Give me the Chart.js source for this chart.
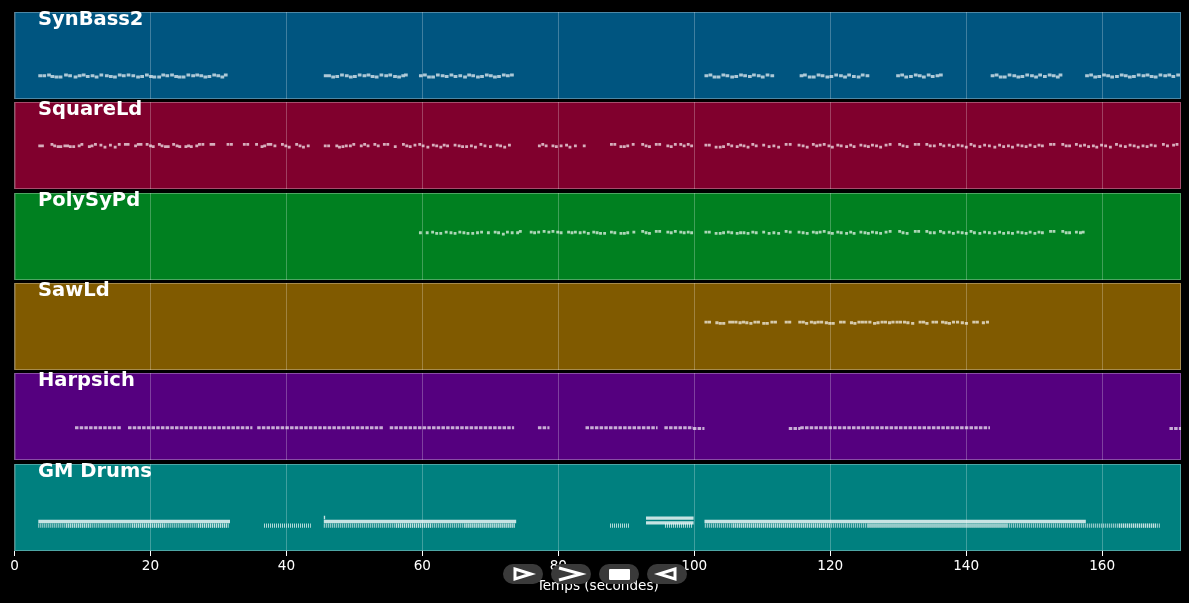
<!DOCTYPE html>
<html>
<head>
<meta charset="utf-8">
<title>Piano roll</title>
<script src="https://cdn.jsdelivr.net/npm/chart.js@4"></script>
<style>
html, body { margin: 0; padding: 0; background: #000; width: 1189px; height: 603px; overflow: hidden; }
canvas { position: absolute; left: 0; }
.track-name { position: absolute; left: 38px; font: bold 19.5px "DejaVu Sans", sans-serif; color: #fff; line-height: 20px; white-space: nowrap; }
.pill { position: absolute; top: 564px; width: 40px; height: 20px; border-radius: 10px; background: #3a3a3a; }
.pill svg { position: absolute; left: 0; top: 0; }
</style>
</head>
<body>
<script>
// axe du temps
const timeMax = 171.6;
const timeTicks = [0, 20, 40, 60, 80, 100, 120, 140, 160];
const timeLabel = 'Temps (secondes)';

const trackNames = ['SynBass2', 'SquareLd', 'PolySyPd', 'SawLd', 'Harpsich', 'GM Drums'];
const trackColors = ['#005580', '#80002d', '#008020', '#805a00', '#55007f', '#00807f'];
const trackTops = [12, 102, 193, 283, 373, 464];

// notes : [debut, hauteur MIDI]
const synBassNotes = [
  [3.5,35],[4.1,35],[4.8,36],[5.3,34],[5.9,33],[6.5,33],[7.3,36],[7.9,35],[8.7,33],[9.3,35],[9.9,36],[10.5,34],[11.2,35],[11.8,33],[12.5,36],[13.3,35],[13.9,34],[14.5,33],[15.2,36],[15.8,35],[16.5,36],[17.2,35],[17.9,33],[18.5,34],[19.2,36],[19.8,34],[20.3,33],[21,33],[21.6,36],[22.2,35],[22.9,36],[23.5,34],[24,33],[24.6,33],[25.3,36],[26,35],[26.6,36],[27.2,35],[27.8,33],[28.4,34],[29.1,36],[29.7,35],[30.3,33],[30.8,36],
  [45.5,35],[46,35],[46.6,33],[47.2,34],[47.9,36],[48.6,35],[49.2,33],[49.8,34],[50.5,36],[51.2,35],[51.8,36],[52.4,34],[53,33],[53.7,36],[54.4,35],[55,36],[55.7,34],[56.3,33],[56.9,35],[57.3,36],
  [59.5,35],[60.1,36],[60.7,33],[61.3,33],[62,36],[62.7,35],[63.3,34],[64,36],[64.6,34],[65.3,35],[66,33],[66.6,36],[67.2,35],[67.9,33],[68.5,34],[69.2,36],[69.8,35],[70.4,33],[71,34],[71.7,36],[72.3,35],[72.9,36],
  [101.5,35],[102.1,36],[102.7,33],[103.3,33],[104,36],[104.6,35],[105.3,33],[105.9,34],[106.6,36],[107.2,35],[107.9,34],[108.5,36],[109.2,35],[109.8,33],[110.5,36],[111.2,35],
  [115.5,35],[116,36],[116.7,33],[117.3,33],[118,36],[118.6,35],[119.3,33],[119.9,34],[120.6,36],[121.3,35],[121.9,33],[122.5,36],[123.2,34],[123.9,33],[124.5,36],[125.2,35],
  [129.7,35],[130.3,36],[130.9,33],[131.6,34],[132.3,36],[132.9,35],[133.5,33],[134.2,36],[134.8,34],[135.5,35],[136,36],
  [143.6,35],[144.2,36],[144.8,33],[145.4,33],[146.1,36],[146.8,35],[147.4,33],[148,34],[148.7,36],[149.4,35],[150,33],[150.6,36],[151.3,34],[152,36],[152.6,35],[153.2,33],[153.6,36],
  [157.5,35],[158.1,36],[158.7,33],[159.3,34],[160,36],[160.6,35],[161.2,33],[161.9,34],[162.6,36],[163.2,35],[163.8,33],[164.4,34],[165.1,36],[165.8,35],[166.4,36],[167,34],[167.6,33],[168.3,36],[169,35],[169.6,36],[170.2,34],[170.9,36]
];
const squareNotes = [
  [3.5,64],[3.9,64],[5.3,66],[5.7,64],[6.2,63],[6.6,63],[7.2,64],[7.6,64],[8,63],[8.5,63],[9.3,64],[9.7,66],[10.8,63],[11.2,64],[11.7,66],[12.5,65],[13.1,62],[13.9,65],[14.6,62],[15.2,66],[16.1,66],[16.5,66],[17.6,64],[18,66],[18.4,66],[19.3,66],[19.8,64],[20.2,63],[21.1,66],[21.5,64],[22,63],[22.4,63],[23.2,66],[23.7,64],[24.1,63],[25,63],[25.4,64],[25.8,63],[26.6,64],[27,66],[27.5,66],[28.7,66],[29.1,66],[31.2,66],[31.7,66],[33.6,66],[34.1,66],[35.4,66],[36.2,63],[36.6,64],[37.1,66],[37.5,66],[38.1,64],[39.2,66],[39.7,64],[40.2,62],[41.3,66],[41.8,64],[42.3,62],[43,64],
  [45.5,64],[46,64],[47.2,64],[47.6,62],[48.1,63],[48.6,64],[49.2,64],[49.7,66],[50.8,64],[51.3,66],[51.8,64],[52.8,66],[53.3,64],[54.2,66],[54.7,66],[55.8,63],[57,66],[57.5,64],[58,63],[58.7,65],[59.4,66],[59.9,64],[60.6,62],[61.4,65],[61.9,64],[62.5,62],[63,65],[63.5,64],[64.6,65],[65.2,64],[65.7,63],[66.3,63],[67,64],[67.6,62],[68.4,66],[69,64],[69.8,63],[70.8,65],[71.3,64],[71.9,62],[72.6,65],
  [77,64],[77.5,66],[78,64],[79,64],[79.5,63],[80.2,64],[81,65],[81.5,62],[82.3,64],[83.6,64],
  [87.6,66],[88.1,66],[89,63],[89.5,63],[90,64],[90.8,66],[92.2,66],[92.7,64],[93.2,63],[94.2,66],[94.7,66],[95.9,64],[96.4,63],[97,66],[97.8,66],[98.3,64],[98.9,66],[99.4,64],
  [101.5,65],[102,65],[103,62],[103.6,62],[104.1,63],[104.8,66],[105.3,64],[106.1,63],[106.6,65],[107.1,64],[107.7,62],[108.4,66],[108.9,64],[110,65],[110.8,63],[111.5,64],[112.2,62],[113.3,66],[113.9,66],[115.2,65],[115.8,64],[116.4,62],[117.3,66],[117.8,64],[118.3,65],[118.9,66],[119.6,64],[120.1,62],[120.9,65],[121.4,64],[122.2,63],[122.8,65],[123.3,63],[124.3,65],[124.9,64],[125.4,63],[126,65],[126.6,64],[127.2,62],[128,65],[128.6,66],[130,66],[130.5,64],[131.1,63],[132.3,66],[132.8,66],[134,66],[134.5,64],[135.1,64],[136,66],[136.5,64],[137.3,65],[137.9,63],[138.6,65],[139.2,64],[139.8,62],[140.5,66],[141,64],[141.8,63],[142.5,65],[143.2,64],[144,62],[144.7,65],[145.3,63],[146,64],[146.6,62],[147.4,65],[148,64],[148.6,63],[149.2,65],[149.9,63],[150.5,65],[151,64],[152.2,66],[152.7,66],[154,66],[154.5,64],[155,64],[156,66],[156.6,64],[157.2,65],[157.8,63],[158.5,64],[159,62],[159.7,65],[160.3,64],[161,62],[161.9,66],[162.5,64],[163.2,63],[163.9,65],[164.5,64],[165.1,62],[165.8,64],[166.4,63],[167,65],[167.6,64],[168.8,66],[169.4,64],[170.3,65],[170.8,66]
];
const polyNotes = [
  [59.5,70],[60.5,70],[61.3,71],[61.9,69],[62.5,69],[63.3,71],[64,70],[64.6,69],[65.3,71],[65.9,70],[66.5,69],[67.2,69],[67.9,70],[68.5,71],[69.5,70],[70.5,71],[71,70],[71.7,68],[72.3,71],[73,70],[73.8,70],[74.2,72],[75.8,71],[76.3,70],[76.9,71],[77.7,72],[78.4,71],[79,72],[79.7,71],[80.2,70],[81.3,71],[81.8,70],[82.3,71],[83,70],[83.6,71],[84.2,69],[85,71],[85.5,70],[86,69],[86.6,69],[87.6,71],[88.1,70],[89,69],[89.5,69],[90,70],[90.9,71],[92.2,72],[92.7,70],[93.2,69],[94.2,72],[94.7,72],[95.9,71],[96.4,70],[97,72],[97.8,71],[98.3,70],[98.9,71],[99.4,70],
  [101.5,71],[102,71],[103,69],[103.6,69],[104.1,70],[104.8,71],[105.3,70],[106.1,69],[106.6,70],[107.1,70],[107.7,69],[108.4,71],[108.9,70],[110,71],[110.8,69],[111.5,70],[112.2,69],[113.3,72],[113.9,71],[115.2,71],[115.8,70],[116.4,69],[117.3,71],[117.8,70],[118.3,71],[118.9,72],[119.6,70],[120.1,69],[120.9,71],[121.4,70],[122.2,69],[122.8,71],[123.3,69],[124.3,71],[124.9,70],[125.4,69],[126,71],[126.6,70],[127.2,69],[128,71],[128.6,72],[130,72],[130.5,70],[131.1,69],[132.3,72],[132.8,72],[134,72],[134.5,70],[135.1,70],[136,72],[136.5,70],[137.3,71],[137.9,69],[138.6,71],[139.2,70],[139.8,69],[140.5,72],[141,70],[141.8,69],[142.5,71],[143.2,70],[144,69],[144.7,71],[145.3,69],[146,70],[146.6,69],[147.4,71],[148,70],[148.6,69],[149.2,71],[149.9,69],[150.5,71],[151,70],[152.2,72],[152.7,72],[154,72],[154.5,70],[155,70],[156,71],[156.6,70],[157,71]
];
const sawNotes = [
  [101.5,71],[102,71],[103.1,70],[103.6,69],[104.1,69],[105,71],[105.4,71],[105.9,71],[106.5,70],[107,71],[107.5,70],[108.1,69],[108.7,71],[109.2,71],[110,69],[110.5,69],[111.2,71],[111.7,71],[113.3,71],[113.8,71],[115.3,71],[115.8,71],[116.3,69],[117,71],[117.5,70],[118,71],[118.5,71],[119.2,70],[119.7,69],[120.2,69],[121.3,71],[121.8,71],[122.9,70],[123.4,69],[124,71],[124.5,71],[125,71],[125.6,71],[126.3,69],[126.8,70],[127.4,71],[127.9,71],[128.5,70],[129,71],[129.6,71],[130.1,71],[130.7,71],[131.2,70],[131.9,69],[133,71],[133.5,71],[134,69],[134.9,71],[135.4,71],[136.3,71],[136.8,70],[137.3,69],[137.9,71],[138.5,71],[139.2,70],[139.8,69],[140.9,71],[141.4,71],[142.3,70],[142.9,71]
];
const synBassLen = 0.55;
const squareLen = 0.42;
const polyLen = 0.42;
const sawLen = 0.46;

// clavecin et batterie : [debut, fin, hauteur]
const harpsichSpans = [
  [8.9,15.7,48],[16.7,35,48],[35.7,54.2,48],[55.2,73.5,48],[77,78.7,48],[84,94.6,48],[95.6,99.8,48],[99.8,101.5,47],
  [113.9,115.6,47],[115.6,143.5,48],[169.9,171.6,47]
];
const drumBarSpans = [
  [3.5,31.7,44],[45.5,73.8,44],[101.5,157.6,44],[92.9,99.9,49],[92.9,99.9,42],[45.5,45.7,50]
];
const drumTickSpans = [
  [3.5,31.5,38],[36.7,43.6,38],[45.5,73.6,38],[87.6,90.5,38],[95.7,99.8,38],[101.55,168.6,38]
];
const drumFillSpans = [
  [7.6,11.2,38],[17.3,22.1,38],[27,31.5,38],[56.1,61.4,38],[66.2,73.6,38],[105.65,120,38],[125.55,146,38],[162.45,168,38]
];

const lineColor = 'rgba(255,255,255,0.68)';

function notesToSpans(notes, len) {
    return notes.map(n => [n[0], n[0] + len, n[1]]);
}

function spansToPoints(spans) {
    const pts = [];
    spans.forEach(s => {
        pts.push({ x: s[0], y: s[2] }, { x: s[1], y: s[2] }, { x: s[1], y: null });
    });
    return pts;
}

function lineSet(spans, width, dash, color) {
    return {
        data: spansToPoints(spans),
        showLine: true,
        spanGaps: false,
        pointRadius: 0,
        borderColor: color || lineColor,
        borderWidth: width,
        borderDash: dash || [],
        borderCapStyle: 'butt',
        tension: 0
    };
}

const trackSets = [
    [lineSet(notesToSpans(synBassNotes, synBassLen), 3)],
    [lineSet(notesToSpans(squareNotes, squareLen), 2.8)],
    [lineSet(notesToSpans(polyNotes, polyLen), 2.8)],
    [lineSet(notesToSpans(sawNotes, sawLen), 2.8)],
    [lineSet(harpsichSpans, 3, [3.5, 1.2])],
    [
        lineSet(drumTickSpans, 4.2, [1, 1], 'rgba(255,255,255,0.7)'),
        lineSet(drumFillSpans, 4.2, [1, 1], 'rgba(255,255,255,0.55)'),
        lineSet(drumBarSpans, 3.4, [], 'rgba(255,255,255,0.78)')
    ]
];

// fond et cadre de chaque piste
const panelPlugin = {
    id: 'panel',
    beforeDraw(chart, args, opts) {
        const a = chart.chartArea;
        chart.ctx.fillStyle = opts.color;
        chart.ctx.fillRect(a.left, a.top, a.width, a.height);
    },
    afterDraw(chart) {
        const a = chart.chartArea;
        chart.ctx.strokeStyle = 'rgba(255,255,255,0.3)';
        chart.ctx.lineWidth = 1;
        chart.ctx.strokeRect(a.left + 0.5, a.top + 0.5, a.width - 1, a.height - 1);
    }
};

trackNames.forEach((name, i) => {
    const isLast = i === trackNames.length - 1;
    const canvas = document.createElement('canvas');
    canvas.style.top = trackTops[i] + 'px';
    canvas.width = 1189;
    canvas.height = isLast ? 131 : 87;
    canvas.style.width = '1189px';
    canvas.style.height = canvas.height + 'px';
    document.body.appendChild(canvas);

    new Chart(canvas.getContext('2d'), {
        type: 'scatter',
        data: { datasets: trackSets[i] },
        plugins: [panelPlugin],
        options: {
            responsive: false,
            animation: false,
            devicePixelRatio: 1,
            layout: { padding: { left: 14.5, right: 8, top: 0, bottom: 0 } },
            plugins: {
                legend: { display: false },
                tooltip: { enabled: false },
                panel: { color: trackColors[i] }
            },
            scales: {
                x: {
                    type: 'linear',
                    min: 0,
                    max: timeMax,
                    afterBuildTicks(scale) { scale.ticks = timeTicks.map(v => ({ value: v })); },
                    afterFit(scale) { scale.height = isLast ? 44 : 0; },
                    border: { display: false },
                    grid: {
                        color: 'rgba(255,255,255,0.25)',
                        tickColor: '#fff',
                        tickLength: 5,
                        drawTicks: isLast
                    },
                    ticks: {
                        display: isLast,
                        color: '#fff',
                        maxRotation: 0,
                        padding: 2,
                        font: { family: '"DejaVu Sans"', size: 13.6 }
                    },
                    title: {
                        display: isLast,
                        text: timeLabel,
                        color: '#fff',
                        padding: 0,
                        font: { family: '"DejaVu Sans"', size: 13.6 }
                    }
                },
                y: { display: false, min: 1, max: 128 }
            }
        }
    });

    const label = document.createElement('div');
    label.className = 'track-name';
    label.textContent = name;
    label.style.top = (trackTops[i] - 3) + 'px';
    document.body.appendChild(label);
});

// boutons de lecture par-dessus l'axe
const buttonCenters = [523, 571, 619, 667];
const buttonIcons = [
    '<path d="M12 5 L28 10 L12 15 Z" fill="none" stroke="#fff" stroke-width="3"/>',
    '<path d="M8 4 L30 10 L8 16" fill="none" stroke="#fff" stroke-width="3"/>',
    '<rect x="10" y="5" width="21" height="11" rx="1" fill="#fff"/>',
    '<path d="M28 5 L12 10 L28 15 Z" fill="none" stroke="#fff" stroke-width="3"/>'
];
buttonCenters.forEach((c, i) => {
    const pill = document.createElement('div');
    pill.className = 'pill';
    pill.style.left = (c - 20) + 'px';
    pill.innerHTML = '<svg width="40" height="20">' + buttonIcons[i] + '</svg>';
    document.body.appendChild(pill);
});
</script>
</body>
</html>
